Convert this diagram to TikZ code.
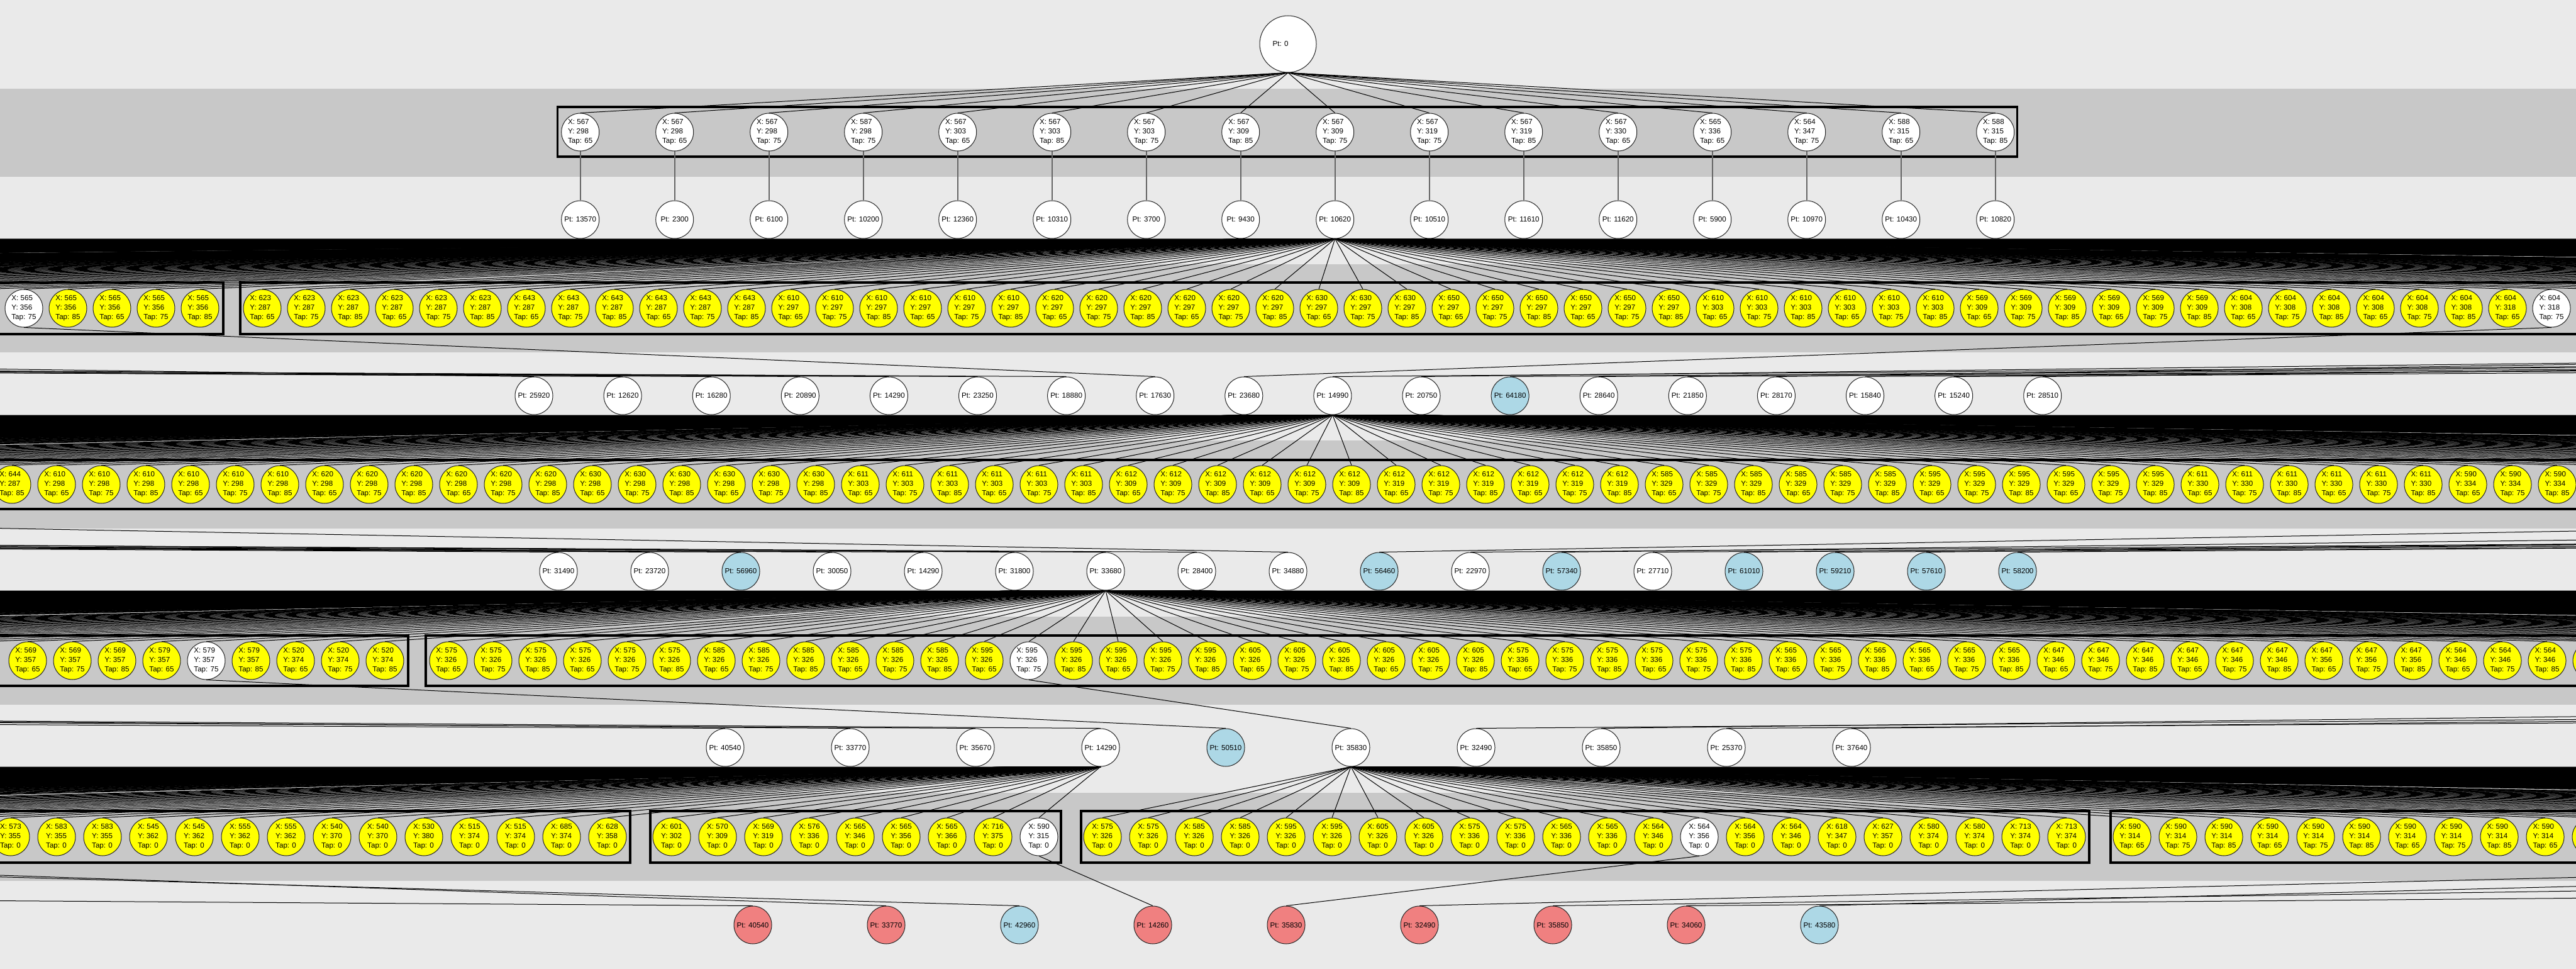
\documentclass[tikz,border=0pt]{standalone}
\usepackage{fontspec}
\setmainfont{Liberation Sans}
\definecolor{bgc}{HTML}{EAEAEA}
\definecolor{bandc}{HTML}{C8C8C8}
\definecolor{ly}{HTML}{FFFF00}
\definecolor{lb}{HTML}{ADD8E6}
\definecolor{lr}{HTML}{F08080}
\newcommand\lbl{\fontsize{2.9pt}{3.75pt}\selectfont}
\pgfdeclarelayer{bg}
\pgfdeclarelayer{edges}
\pgfsetlayers{bg,edges,main}
\tikzset{
  xn/.style={circle,draw=black!85,line width=0.25pt,minimum size=15pt,inner sep=0pt,align=left,font=\lbl},
  edge/.style={line width=0.25pt,black},
  vedge/.style={line width=0.45pt,black!60},
  cbox/.style={line width=0.9pt,draw=black},
}
% #1 source node, #2 x of last visible child, #3 step, #4 child top y, #5 name prefix, #6 gap index, #7 gap shift
\newcommand\fanfar[7]{%
  \foreach \m in {1,...,170}{%
    \coordinate (#5\m) at ({#2+#3*\m+(\m>#6)*#7},#4);
    \draw[edge] (#1.south) -- (#5\m);
  }%
  \fill[black] (#1.south) -- (#5170) -- (#5170 |- #1.south) -- cycle;
}
\begin{document}
\begin{tikzpicture}[x=2.5pt,y=-2.5pt]
\path[use as bounding box] (0,0) rectangle (409.6,154);
\begin{pgfonlayer}{bg}
\fill[bgc] (0,0) rectangle (409.6,154);
\foreach \t in {14.1,42,70,98,126} \fill[bandc] (0,\t) rectangle (409.6,\t+14);
\draw[cbox] (88.65,17) rectangle (320.76,24.9);
\draw[cbox] (-5,44.9) rectangle (35.5,53.1);
\draw[cbox] (38.2,44.9) rectangle (415,53.1);
\draw[cbox] (-5,73.1) rectangle (415,80.9);
\draw[cbox] (-5,101) rectangle (64.9,109);
\draw[cbox] (67.7,101) rectangle (415,109);
\draw[cbox] (-5,128.9) rectangle (100.2,137.1);
\draw[cbox] (103.4,128.9) rectangle (168.7,137.1);
\draw[cbox] (171.9,128.9) rectangle (332.2,137.1);
\draw[cbox] (335.6,128.9) rectangle (415,137.1);
\end{pgfonlayer}

% ---------- nodes ----------
\node[xn,fill=white,minimum size=22.5pt] (p0) at (204.8,7) {Pt: 0\hspace{6pt}};

\foreach \a/\b/\c [count=\i from 0] in {567/298/65,567/298/65,567/298/75,587/298/75,567/303/65,567/303/85,567/303/75,567/309/85,567/309/75,567/319/75,567/319/85,567/330/65,565/336/65,564/347/75,588/315/65,588/315/85}
  \node[xn,fill=white] (a\i) at ({92.27+15*\i},21) {X: \a\\Y: \b\\Tap: \c};

\foreach \p [count=\i from 0] in {13570,2300,6100,10200,12360,10310,3700,9430,10620,10510,11610,11620,5900,10970,10430,10820}
  \node[xn,fill=white] (b\i) at ({92.27+15*\i},34.9) {Pt: \p};

\foreach \a/\b/\c/\f [count=\i from 0] in {565/356/75/white,565/356/85/ly,565/356/65/ly,565/356/75/ly,565/356/85/ly}
  \node[xn,fill=\f] (ca\i) at ({3.8+7*\i},49) {X: \a\\Y: \b\\Tap: \c};
\foreach \a/\b/\c/\f [count=\i from 0] in {623/287/65/ly,623/287/75/ly,623/287/85/ly,623/287/65/ly,623/287/75/ly,623/287/85/ly,
643/287/65/ly,643/287/75/ly,643/287/85/ly,643/287/65/ly,643/287/75/ly,643/287/85/ly,
610/297/65/ly,610/297/75/ly,610/297/85/ly,610/297/65/ly,610/297/75/ly,610/297/85/ly,
620/297/65/ly,620/297/75/ly,620/297/85/ly,620/297/65/ly,620/297/75/ly,620/297/85/ly,
630/297/65/ly,630/297/75/ly,630/297/85/ly,
650/297/65/ly,650/297/75/ly,650/297/85/ly,650/297/65/ly,650/297/75/ly,650/297/85/ly,
610/303/65/ly,610/303/75/ly,610/303/85/ly,610/303/65/ly,610/303/75/ly,610/303/85/ly,
569/309/65/ly,569/309/75/ly,569/309/85/ly,569/309/65/ly,569/309/75/ly,569/309/85/ly,
604/308/65/ly,604/308/75/ly,604/308/85/ly,604/308/65/ly,604/308/75/ly,604/308/85/ly,
604/318/65/ly,604/318/75/white}
  \node[xn,fill=\f] (cb\i) at ({41.7+7*\i},49) {X: \a\\Y: \b\\Tap: \c};

\foreach \p/\f [count=\i from 0] in {25920/white,12620/white,16280/white,20890/white,14290/white,23250/white,18880/white,17630/white,23680/white,14990/white,20750/white,64180/lb,28640/white,21850/white,28170/white,15840/white,15240/white,28510/white}
  \node[xn,fill=\f] (d\i) at ({84.9+14.11*\i},62.9) {Pt: \p};

\foreach \a/\b/\c [count=\i from 0] in {644/287/85,
610/298/65,610/298/75,610/298/85,610/298/65,610/298/75,610/298/85,
620/298/65,620/298/75,620/298/85,620/298/65,620/298/75,620/298/85,
630/298/65,630/298/75,630/298/85,630/298/65,630/298/75,630/298/85,
611/303/65,611/303/75,611/303/85,611/303/65,611/303/75,611/303/85,
612/309/65,612/309/75,612/309/85,612/309/65,612/309/75,612/309/85,
612/319/65,612/319/75,612/319/85,612/319/65,612/319/75,612/319/85,
585/329/65,585/329/75,585/329/85,585/329/65,585/329/75,585/329/85,
595/329/65,595/329/75,595/329/85,595/329/65,595/329/75,595/329/85,
611/330/65,611/330/75,611/330/85,611/330/65,611/330/75,611/330/85,
590/334/65,590/334/75,590/334/85}
  \node[xn,fill=ly] (e\i) at ({1.9+7.1*\i},77) {X: \a\\Y: \b\\Tap: \c};

\foreach \p/\f [count=\i from 0] in {31490/white,23720/white,56960/lb,30050/white,14290/white,31800/white,33680/white,28400/white,34880/white,56460/lb,22970/white,57340/lb,27710/white,61010/lb,59210/lb,57610/lb,58200/lb}
  \node[xn,fill=\f] (f\i) at ({88.8+14.5*\i},90.8) {Pt: \p};

\foreach \a/\b/\c/\f [count=\i from 0] in {569/357/65/ly,569/357/75/ly,569/357/85/ly,579/357/65/ly,579/357/75/white,579/357/85/ly,520/374/65/ly,520/374/75/ly,520/374/85/ly}
  \node[xn,fill=\f] (ga\i) at ({4.4+7.1*\i},105) {X: \a\\Y: \b\\Tap: \c};
\foreach \a/\b/\c/\f [count=\i from 0] in {575/326/65/ly,575/326/75/ly,575/326/85/ly,575/326/65/ly,575/326/75/ly,575/326/85/ly,
585/326/65/ly,585/326/75/ly,585/326/85/ly,585/326/65/ly,585/326/75/ly,585/326/85/ly,
595/326/65/ly,595/326/75/white,595/326/85/ly,595/326/65/ly,595/326/75/ly,595/326/85/ly,
605/326/65/ly,605/326/75/ly,605/326/85/ly,605/326/65/ly,605/326/75/ly,605/326/85/ly,
575/336/65/ly,575/336/75/ly,575/336/85/ly,575/336/65/ly,575/336/75/ly,575/336/85/ly,
565/336/65/ly,565/336/75/ly,565/336/85/ly,565/336/65/ly,565/336/75/ly,565/336/85/ly,
647/346/65/ly,647/346/75/ly,647/346/85/ly,647/346/65/ly,647/346/75/ly,647/346/85/ly,
647/356/65/ly,647/356/75/ly,647/356/85/ly,
564/346/65/ly,564/346/75/ly,564/346/85/ly,564/356/65/ly}
  \node[xn,fill=\f] (gb\i) at ({71.3+7.1*\i},105) {X: \a\\Y: \b\\Tap: \c};

\foreach \p/\f [count=\i from 0] in {40540/white,33770/white,35670/white,14290/white,50510/lb,35830/white,32490/white,35850/white,25370/white,37640/white}
  \node[xn,fill=\f] (h\i) at ({115.3+19.9*\i},118.8) {Pt: \p};

\foreach \a/\b/\c/\f [count=\i from 0] in {573/355/0/ly,583/355/0/ly,583/355/0/ly,545/362/0/ly,545/362/0/ly,555/362/0/ly,555/362/0/ly,540/370/0/ly,540/370/0/ly,530/380/0/ly,515/374/0/ly,515/374/0/ly,685/374/0/ly,628/358/0/ly}
  \node[xn,fill=\f] (ia\i) at ({1.7+7.3*\i},133) {X: \a\\Y: \b\\Tap: \c};
\foreach \a/\b/\c/\f [count=\i from 0] in {601/302/0/ly,570/309/0/ly,569/319/0/ly,576/336/0/ly,565/346/0/ly,565/356/0/ly,565/366/0/ly,716/375/0/ly,590/315/0/white}
  \node[xn,fill=\f] (ib\i) at ({106.8+7.3*\i},133) {X: \a\\Y: \b\\Tap: \c};
\foreach \a/\b/\c/\f [count=\i from 0] in {575/326/0/ly,575/326/0/ly,585/326/0/ly,585/326/0/ly,595/326/0/ly,595/326/0/ly,605/326/0/ly,605/326/0/ly,575/336/0/ly,575/336/0/ly,565/336/0/ly,565/336/0/ly,564/346/0/ly,564/356/0/white,564/356/0/ly,564/346/0/ly,618/347/0/ly,627/357/0/ly,580/374/0/ly,580/374/0/ly,713/374/0/ly,713/374/0/ly}
  \node[xn,fill=\f] (ic\i) at ({175.3+7.3*\i},133) {X: \a\\Y: \b\\Tap: \c};
\foreach \a/\b/\c/\f [count=\i from 0] in {590/314/65/ly,590/314/75/ly,590/314/85/ly,590/314/65/ly,590/314/75/ly,590/314/85/ly,590/314/65/ly,590/314/75/ly,590/314/85/ly,590/314/65/ly,590/314/75/ly}
  \node[xn,fill=\f] (id\i) at ({339+7.3*\i},133) {X: \a\\Y: \b\\Tap: \c};

\foreach \p/\f [count=\i from 0] in {40540/lr,33770/lr,42960/lb,14260/lr,35830/lr,32490/lr,35850/lr,34060/lr,43580/lb}
  \node[xn,fill=\f] (j\i) at ({119.7+21.2*\i},147) {Pt: \p};

% ---------- edges ----------
\begin{pgfonlayer}{edges}
\foreach \i in {0,...,15} \draw[edge] (p0.south) -- (a\i.north);
\foreach \i in {0,...,15} \draw[vedge] (a\i.south) -- (b\i.north);
% fan A
\foreach \i in {0,...,4} \draw[edge] (b8.south) -- (ca\i.north);
\foreach \i in {0,...,52} \draw[edge] (b8.south) -- (cb\i.north);
\fanfar{b8}{3.8}{-7}{46}{fal}{75}{-40}
\fanfar{b8}{405.7}{7}{46}{far}{48}{26}
% row 4 parents
\draw[edge] (ca0.south) -- (d7.north);
\draw[edge] (cb52.south) -- (d8.north);
\foreach \i/\px in {0/-475,1/-1200,2/-1400,3/-1000,4/-1600,5/-1300,6/-1500,9/1200,10/900,11/1400,12/1100,13/1500,14/800,15/1300,16/1600,17/1000}
  {\coordinate (dq\i) at (\px,52); \draw[edge] (dq\i) -- (d\i.north);}
% fan B
\foreach \i in {0,...,57} \draw[edge] (d9.south) -- (e\i.north);
\fanfar{d9}{1.9}{-7.1}{74}{fbl}{20}{-11}
\fanfar{d9}{406.6}{7.1}{74}{fbr}{40}{21}
% row 6 parents
\foreach \i/\px in {0/-1300,1/-900,2/-1500,3/-1100,4/-1600,5/-1000,6/-1400,7/-1200,8/-215,9/660,10/1300,11/900,12/1500,13/1100,14/1600,15/1000,16/1400}
  {\coordinate (fq\i) at (\px,80); \draw[edge] (fq\i) -- (f\i.north);}
% fan C
\foreach \i in {0,...,8} \draw[edge] (f6.south) -- (ga\i.north);
\foreach \i in {0,...,48} \draw[edge] (f6.south) -- (gb\i.north);
\fanfar{f6}{4.4}{-7.1}{102}{fcl}{25}{-13}
\fanfar{f6}{412.1}{7.1}{102}{fcr}{33}{17}
% row 8 parents
\draw[edge] (ga4.south) -- (h4.north);
\draw[edge] (gb13.south) -- (h5.north);
\foreach \i/\px in {0/-1400,1/-900,2/-1200,3/-1000,6/1200,7/900,8/1500,9/1100}
  {\coordinate (hq\i) at (\px,108); \draw[edge] (hq\i) -- (h\i.north);}
% fan D
\foreach \i in {0,...,13} \draw[edge] (h3.south) -- (ia\i.north);
\foreach \i in {0,...,8} \draw[edge] (h3.south) -- (ib\i.north);
\fanfar{h3}{1.7}{-7.3}{130}{fdl}{18}{-11}
% fan E
\foreach \i in {0,...,21} \draw[edge] (h5.south) -- (ic\i.north);
\foreach \i in {0,...,10} \draw[edge] (h5.south) -- (id\i.north);
\fanfar{h5}{412}{7.3}{130}{fer}{30}{18}
% row 10 parents
\draw[edge] (ib8.south) -- (j3.north);
\draw[edge] (ic13.south) -- (j4.north);
\foreach \i/\px in {0/-1080,1/-90,2/-119,5/550,6/800,7/1200,8/600}
  {\coordinate (jq\i) at (\px,136); \draw[edge] (jq\i) -- (j\i.north);}
\end{pgfonlayer}
\end{tikzpicture}
\end{document}
